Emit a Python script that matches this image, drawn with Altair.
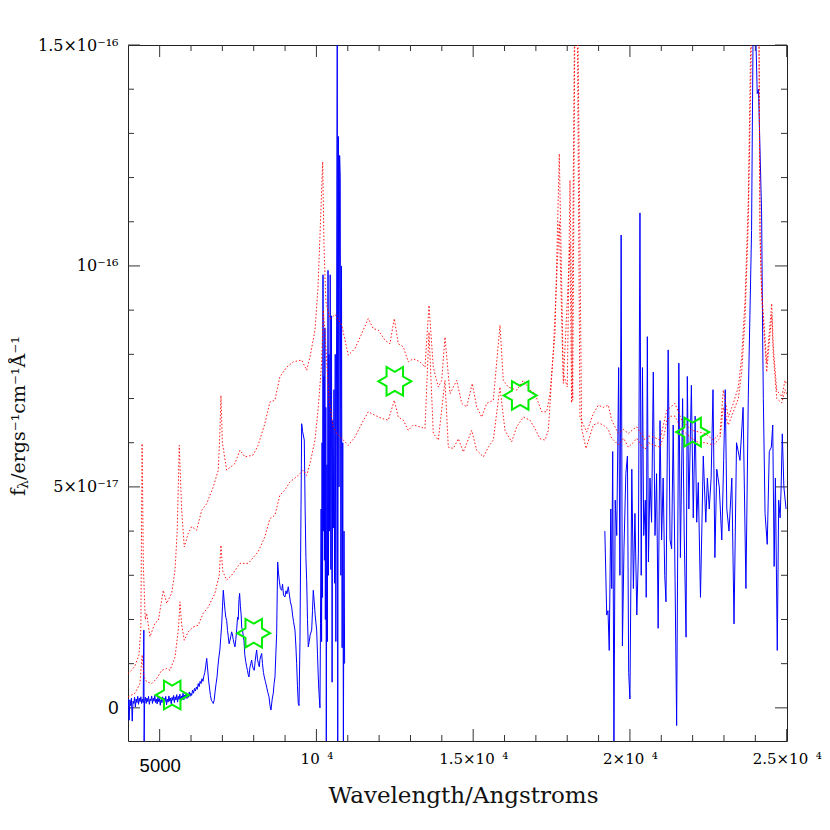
import altair as alt
import pandas as pd

# ---------------- data (flux in units of 1e-17 erg/s/cm2/A) ----------------
blue_optical = [
    (4000, 0.20), (4025, -0.28), (4050, 0.18), (4075, 0.05), (4100, 0.22), (4125, -0.30),
    (4150, 0.15), (4175, 0.10), (4200, 0.24), (4225, 0.02), (4250, 0.20), (4275, 0.12),
    (4300, 0.26), (4325, 0.08), (4350, 0.22), (4375, 0.14), (4400, 0.25), (4425, 0.10),
    (4450, 0.20), (4475, 0.12), (4495, 1.76), (4505, -0.75), (4520, 0.15), (4545, 0.24),
    (4570, 0.10), (4595, 0.22), (4620, 0.14), (4645, 0.26), (4670, 0.08), (4695, 0.20),
    (4720, 0.16), (4745, 0.27), (4770, 0.10), (4795, 0.22), (4820, 0.15), (4845, 0.28),
    (4870, 0.12), (4895, 0.20), (4920, 0.09), (4945, 0.24), (4970, 0.14), (4995, 0.21),
    (5020, 0.06), (5045, 0.19), (5070, 0.12), (5095, 0.25), (5120, 0.10), (5145, 0.22),
    (5170, 0.14), (5195, 0.26), (5220, 0.07), (5245, 0.20), (5270, 0.13), (5295, 0.27),
    (5320, 0.15), (5345, 0.22), (5370, 0.09), (5395, 0.24), (5420, 0.17), (5445, 0.28),
    (5470, 0.12), (5495, 0.25), (5520, 0.18), (5545, 0.30), (5570, 0.13), (5595, 0.26),
    (5620, 0.19), (5645, 0.31), (5670, 0.16), (5695, 0.27), (5720, 0.20), (5745, 0.33),
    (5770, 0.18), (5795, 0.29), (5820, 0.22), (5845, 0.34), (5870, 0.21), (5895, 0.30),
    (5920, 0.24), (5945, 0.36), (5970, 0.26), (5995, 0.33), (6020, 0.28), (6050, 0.40),
    (6080, 0.33), (6110, 0.44), (6140, 0.38), (6170, 0.47), (6200, 0.42), (6230, 0.55),
    (6260, 0.48), (6290, 0.60), (6320, 0.55), (6350, 0.66), (6380, 0.60), (6410, 0.72),
    (6440, 0.80), (6470, 0.95), (6500, 1.12), (6530, 0.88), (6560, 0.63), (6590, 0.45),
    (6620, 0.28), (6650, 0.17), (6680, 0.14), (6710, 0.10), (6740, 0.18), (6770, 0.38),
    (6800, 0.55), (6830, 0.70), (6860, 0.95), (6890, 1.15), (6920, 1.31), (6950, 1.60),
    (6980, 1.90), (7005, 2.30), (7030, 2.66), (7060, 2.40), (7085, 2.20), (7110, 2.05),
    (7137, 1.98), (7165, 1.75), (7190, 1.60), (7215, 1.45), (7243, 1.53), (7270, 1.62),
    (7295, 1.72), (7316, 1.68), (7345, 1.55), (7375, 1.45), (7402, 1.38), (7430, 1.55),
    (7460, 1.80), (7485, 2.05), (7507, 2.00), (7530, 2.45), (7550, 2.59), (7575, 2.30),
    (7600, 2.10), (7616, 1.83), (7645, 1.75), (7670, 1.60), (7689, 1.53), (7715, 1.20),
    (7745, 1.05), (7775, 0.93), (7800, 0.85), (7825, 0.75), (7849, 0.70), (7875, 0.90),
    (7905, 1.00), (7935, 1.08), (7960, 0.95), (7990, 0.88), (8018, 0.85), (8045, 1.05),
    (8070, 1.20), (8094, 1.31), (8120, 1.10), (8150, 1.00), (8177, 0.93), (8200, 1.10),
    (8230, 1.18), (8254, 1.23), (8280, 1.00), (8310, 0.80), (8337, 0.70), (8370, 0.60),
    (8413, 0.47), (8450, 0.35), (8487, 0.25), (8520, 0.05), (8550, -0.05), (8590, 0.20),
    (8624, 0.33), (8650, 0.55), (8678, 0.70), (8705, 1.20), (8732, 1.68), (8750, 2.60),
    (8764, 3.30), (8790, 3.05), (8820, 2.85), (8850, 2.70), (8892, 2.66), (8920, 2.80),
    (8950, 2.55), (8997, 2.51), (9030, 2.65), (9060, 2.58), (9102, 2.74), (9140, 2.55),
    (9170, 2.40), (9211, 2.28), (9240, 2.10), (9270, 1.95), (9316, 1.76), (9345, 1.40),
    (9370, 1.00), (9395, 0.50), (9421, 0.10), (9445, 0.05), (9475, 1.50), (9500, 3.80),
    (9520, 5.50), (9530, 6.43), (9560, 6.25), (9613, 6.06), (9640, 4.50), (9665, 3.40),
    (9689, 2.89), (9715, 2.00), (9740, 1.38), (9770, 1.50), (9800, 1.65), (9849, 1.76),
    (9875, 2.20), (9900, 2.66), (9930, 2.40), (9960, 2.10), (10008, 1.76), (10035, 1.20),
    (10059, 0.70), (10085, 0.30), (10113, 0.00), (10130, 1.90), (10150, 4.50), (10165, 1.50),
    (10180, 6.00), (10195, 2.50), (10210, 9.80), (10225, 4.00), (10240, 7.50), (10255, 3.34),
    (10270, 8.60), (10285, 2.00), (10300, 6.80), (10315, -1.00), (10335, 5.50), (10350, 1.50),
    (10370, 9.90), (10385, 3.00), (10400, 8.00), (10420, 4.00), (10440, 9.80), (10460, 3.13),
    (10480, 8.87), (10500, 0.58), (10520, 6.50), (10540, 4.07), (10560, 7.20), (10580, 2.82),
    (10600, 8.00), (10620, 1.50), (10645, 9.00), (10665, 16.00), (10680, -1.00), (10700, 12.93),
    (10720, 5.00), (10740, 12.50), (10760, 12.00), (10780, 3.00), (10800, 10.00), (10820, 1.36),
    (10840, 6.00), (10860, -1.00), (10880, 4.00), (10900, 1.00),
]

blue_kband = [
    (19200, 4.0), (19260, 2.1), (19300, 2.2), (19340, 1.3), (19390, 4.5), (19420, 2.7),
    (19450, 5.8), (19490, -0.9), (19530, 4.7), (19580, 3.9), (19640, 7.7), (19680, 3.0),
    (19720, 10.7), (19760, 1.4), (19810, 3.6), (19870, 5.3), (19920, 5.7), (19960, 0.8),
    (20000, 0.2), (20060, 5.4), (20110, 2.7), (20160, 4.4), (20220, 2.1), (20270, 3.5),
    (20320, 11.2), (20360, 3.0), (20400, 7.7), (20440, 3.9), (20490, 4.7), (20520, 2.5),
    (20555, 8.4), (20590, 3.3), (20640, 5.2), (20690, 4.2), (20745, 7.6), (20800, 3.9),
    (20850, 5.3), (20900, 1.8), (20960, 6.5), (21010, 3.8), (21060, 5.2), (21110, 3.0),
    (21150, 2.4), (21220, 8.1), (21280, 3.8), (21330, 3.6), (21380, 6.4), (21440, 2.9),
    (21490, -0.4), (21560, 7.8), (21610, 3.4), (21680, 7.0), (21730, 4.0), (21790, 1.6),
    (21830, 7.5), (21880, 4.5), (21960, 7.3), (22020, 4.3), (22080, 6.6), (22130, 4.2),
    (22180, 5.1), (22250, 2.5), (22340, 5.7), (22420, 4.2), (22470, 5.2), (22530, 4.5),
    (22590, 5.2), (22650, 7.2), (22710, 3.4), (22770, 5.4), (22850, 5.0), (22930, 3.8),
    (22990, 5.6), (23040, 7.2), (23090, 4.5), (23160, 4.0), (23250, 5.2), (23320, 1.9),
    (23400, 6.0), (23510, 5.6), (23610, 6.8), (23700, 2.7), (23775, 7.0), (23880, 10.8),
    (23935, 16.0), (23990, 16.0), (24060, 13.9), (24100, 14.0), (24200, 11.2), (24235, 8.3),
    (24255, 7.0), (24310, 4.4), (24380, 3.7), (24445, 5.8), (24510, 5.9), (24555, 6.4),
    (24600, 3.2), (24640, 5.2), (24700, 1.3), (24745, 4.7), (24790, 4.3), (24820, 4.9),
    (24860, 6.2), (24910, 5.0), (24980, 4.5),
]

model_upper = [
    (3990, 0.78), (4100, 0.85), (4212, 0.95), (4340, 1.20), (4400, 1.80), (4440, 5.98),
    (4480, 3.20), (4540, 2.00), (4585, 2.14), (4690, 1.61), (4850, 1.92), (4960, 1.98),
    (5115, 2.66), (5225, 2.36), (5385, 2.60), (5490, 3.12), (5560, 4.00), (5625, 5.94),
    (5700, 4.50), (5785, 3.64), (5912, 3.95), (6020, 4.10), (6180, 4.02), (6340, 4.47),
    (6500, 4.62), (6710, 5.00), (6870, 5.38), (6920, 6.20), (6955, 7.07), (7000, 6.00),
    (7137, 5.38), (7400, 5.53), (7561, 5.83), (7720, 5.68), (7980, 5.72), (8140, 5.94),
    (8355, 6.43), (8515, 6.92), (8675, 6.96), (8835, 7.49), (9050, 7.71), (9260, 7.83),
    (9530, 7.87), (9690, 7.64), (9795, 7.94), (9955, 8.55), (10050, 9.50), (10130, 11.00),
    (10200, 12.36), (10240, 10.50), (10300, 9.20), (10432, 8.80), (10600, 8.90), (10806, 8.66),
    (11016, 7.98), (11230, 8.13), (11495, 8.55), (11654, 8.81), (11814, 8.58), (11973, 8.55),
    (12187, 8.32), (12346, 8.24), (12484, 8.81), (12611, 8.24), (12771, 8.17), (12930, 7.83),
    (13090, 7.90), (13303, 7.83), (13463, 7.71), (13591, 9.11), (13728, 7.71), (13887, 7.26),
    (13996, 7.41), (14101, 8.39), (14260, 7.11), (14474, 7.41), (14634, 6.89), (14793, 6.81),
    (14972, 7.34), (15112, 6.81), (15272, 6.58), (15431, 6.89), (15642, 6.96), (15855, 8.66),
    (15961, 7.41), (16120, 7.26), (16388, 7.19), (16599, 7.41), (16812, 7.19), (16972, 7.11),
    (17186, 6.70), (17345, 6.70), (17450, 7.11), (17610, 8.47), (17747, 12.54), (17875, 7.57),
    (18002, 7.26), (18088, 11.94), (18175, 6.96), (18280, 20.0), (18407, 6.58), (18621, 6.24),
    (18832, 6.66), (18991, 6.85), (19150, 6.80), (19310, 6.85), (19418, 6.51), (19629, 6.21),
    (19800, 6.30), (19948, 6.21), (20100, 6.30), (20216, 6.36), (20350, 6.20), (20481, 6.06),
    (20600, 6.15), (20745, 6.13), (20959, 6.06), (21173, 6.73), (21437, 6.89), (21651, 6.51),
    (21970, 6.28), (22394, 6.21), (22659, 6.06), (22873, 6.21), (22978, 7.19), (23138, 6.58),
    (23297, 6.89), (23457, 7.26), (23565, 7.94), (23671, 9.22), (23776, 11.49), (23862, 15.5),
    (23950, 20.0), (24118, 15.0), (24150, 10.80), (24203, 9.45), (24363, 7.80), (24522, 9.15),
    (24573, 8.17), (24682, 7.19), (24842, 7.04), (24947, 7.41), (25010, 7.30),
]

model_lower = [
    (3990, 0.25), (4212, 0.33), (4370, 0.55), (4440, 1.20), (4500, 0.70), (4585, 0.59),
    (4745, 0.55), (4900, 0.66), (5065, 0.85), (5225, 0.89), (5330, 0.85), (5490, 1.15),
    (5600, 1.80), (5648, 2.40), (5700, 1.90), (5785, 1.53), (5910, 1.72), (6070, 1.83),
    (6230, 1.87), (6390, 2.14), (6550, 2.28), (6760, 2.59), (6900, 3.00), (6955, 3.68),
    (7010, 3.10), (7135, 2.89), (7295, 3.00), (7560, 3.27), (7825, 3.27), (8140, 3.53),
    (8355, 3.87), (8515, 4.28), (8675, 4.36), (8835, 4.81), (8995, 4.93), (9150, 5.11),
    (9420, 5.26), (9580, 5.38), (9690, 5.26), (9795, 5.53), (9955, 6.06), (10060, 6.81),
    (10165, 7.79), (10220, 9.00), (10273, 8.50), (10400, 7.00), (10530, 6.36), (10646, 6.21),
    (10857, 6.06), (11016, 5.94), (11230, 6.13), (11444, 6.43), (11654, 6.70), (11868, 6.62),
    (12082, 6.55), (12292, 6.51), (12484, 6.96), (12611, 6.58), (12771, 6.51), (12930, 6.28),
    (13090, 6.40), (13303, 6.36), (13463, 6.32), (13591, 8.50), (13728, 6.21), (13887, 6.06),
    (14101, 7.41), (14207, 5.90), (14367, 5.87), (14527, 6.09), (14687, 5.79), (14953, 6.28),
    (15112, 5.83), (15325, 5.68), (15485, 5.90), (15642, 6.06), (15855, 7.26), (16014, 6.28),
    (16227, 6.02), (16388, 6.36), (16599, 6.58), (16812, 6.51), (16972, 6.32), (17132, 6.09),
    (17292, 6.06), (17398, 6.28), (17557, 8.09), (17747, 11.00), (17875, 7.34), (18088, 10.50),
    (18140, 6.90), (18280, 20.0), (18460, 6.32), (18600, 5.87), (18832, 6.40), (18991, 6.45),
    (19150, 6.40), (19310, 6.30), (19418, 6.10), (19629, 5.95), (19800, 6.10), (19948, 5.90),
    (20100, 6.00), (20216, 6.10), (20350, 5.95), (20481, 5.85), (20600, 6.00), (20745, 5.95),
    (20959, 5.90), (21100, 6.20), (21173, 6.50), (21300, 6.60), (21437, 6.60), (21651, 6.30),
    (21800, 6.20), (21970, 6.10), (22200, 6.00), (22394, 6.00), (22659, 5.95), (22873, 6.10),
    (22978, 6.80), (23138, 6.40), (23297, 6.70), (23457, 7.00), (23565, 7.60), (23671, 8.80),
    (23776, 11.00), (23862, 14.50), (23950, 20.0), (24118, 15.0), (24150, 10.60), (24203, 9.30),
    (24363, 7.60), (24522, 8.90), (24573, 8.00), (24682, 7.00), (24842, 6.90), (24947, 7.20),
    (25010, 7.10),
]

phot_wave = [5400, 8000, 12500, 16500, 22000]
phot_flux = [0.29, 1.69, 7.39, 7.07, 6.24]

x_major_ticks = [5000, 10000, 15000, 20000, 25000]
x_minor_ticks = [6000, 7000, 8000, 9000, 11000, 12000, 13000, 14000, 16000, 17000,
                 18000, 19000, 21000, 22000, 23000, 24000]
y_major_ticks = [0, 5, 10, 15]
y_minor_ticks = [1, 2, 3, 4, 6, 7, 8, 9, 11, 12, 13, 14]

x_tick_labels = ["5000", "10\u2002⁴", "1.5×10\u2002⁴", "2×10\u2002⁴", "2.5×10\u2002⁴"]
y_tick_labels = ["0", "5×10⁻¹⁷", "10⁻¹⁶", "1.5×10⁻¹⁶"]

x_title = "Wavelength/Angstroms"
y_title_parts = ["f", "λ", "/ergs⁻¹cm⁻¹Å⁻¹"]

# ---------------- build tables ----------------
blue_df = pd.DataFrame(
    [{"w": w, "f": f, "seg": "optical"} for w, f in blue_optical]
    + [{"w": w, "f": f, "seg": "k"} for w, f in blue_kband]
)
model_df = pd.DataFrame(
    [{"w": w, "f": f, "model": "upper"} for w, f in model_upper]
    + [{"w": w, "f": f, "model": "lower"} for w, f in model_lower]
)
phot_df = pd.DataFrame({"w": phot_wave, "f": phot_flux})


def label_expr(values, texts):
    s = "''"
    for v, t in reversed(list(zip(values, texts))):
        s = f"datum.value == {v} ? '{t}' : {s}"
    return s


W, H = 659, 696
SERIF = "DejaVu Serif"
SANS = "Liberation Sans"

xaxis = alt.Axis(
    values=x_major_ticks, labelExpr=label_expr(x_major_ticks, x_tick_labels),
    ticks=False, tickSize=0, domain=False, grid=False,
    labelFont={"condition": {"test": "datum.value == 5000", "value": SANS}, "value": SERIF},
    labelFontSize={"condition": {"test": "datum.value == 5000", "value": 18.5}, "value": 15},
    labelPadding={"condition": {"test": "datum.value == 5000", "value": 15}, "value": 10},
    labelColor="black", labelFlush=False, labelOverlap=False, labelBaseline="top",
    title=x_title, titleFont=SERIF, titleFontSize=23, titleFontWeight="normal",
    titleColor="#111", titleX=335, titleY=61, titleBaseline="alphabetic", titleAlign="center",
)
yaxis = alt.Axis(
    values=y_major_ticks, labelExpr=label_expr(y_major_ticks, y_tick_labels),
    ticks=False, tickSize=0, domain=False, grid=False,
    labelFont={"condition": {"test": "datum.value == 0", "value": SANS}, "value": SERIF},
    labelFontSize={"condition": {"test": "datum.value == 0", "value": 18.5}, "value": 16},
    labelPadding=10, labelColor="black", labelFlush=False, labelOverlap=False,
    labelAlign="right", labelBaseline="middle", title="",
)

xscale = alt.Scale(domain=[3990, 25010], nice=False, zero=False)
yscale = alt.Scale(domain=[-0.75, 15], nice=False, zero=False)


def X():
    return alt.X("w:Q", scale=xscale, axis=xaxis)


def Y():
    return alt.Y("f:Q", scale=yscale, axis=yaxis)


blue = alt.Chart(blue_df).mark_line(color="#0000ff", strokeWidth=1, clip=True).encode(
    x=X(), y=Y(), detail="seg:N"
)
red = alt.Chart(model_df).mark_line(
    color="#ff0000", strokeWidth=1, strokeDash=[1.5, 2], clip=True, opacity=0.9
).encode(x=X(), y=Y(), detail="model:N")

HEX = ("M1,0L0.5,0.2887L0.5,0.866L0,0.5774L-0.5,0.866L-0.5,0.2887L-1,0"
       "L-0.5,-0.2887L-0.5,-0.866L0,-0.5774L0.5,-0.866L0.5,-0.2887Z")
stars = alt.Chart(phot_df).mark_point(
    shape=HEX, size=1089, filled=False, stroke="#00ee00", strokeWidth=2, opacity=1
).encode(x=X(), y=Y())

tick_color = "#333"
xmaj = pd.DataFrame({"w": x_major_ticks})
xmin = pd.DataFrame({"w": x_minor_ticks})
ymaj = pd.DataFrame({"f": y_major_ticks})
ymin = pd.DataFrame({"f": y_minor_ticks})

tick_layers = []
for df, L in ((xmaj, 12), (xmin, 6)):
    tick_layers.append(alt.Chart(df).mark_rule(color=tick_color, strokeWidth=1).encode(
        x=X(), y=alt.value(H), y2=alt.value(H - L)))
    tick_layers.append(alt.Chart(df).mark_rule(color=tick_color, strokeWidth=1).encode(
        x=X(), y=alt.value(0), y2=alt.value(L)))
for df, L in ((ymaj, 12), (ymin, 6)):
    tick_layers.append(alt.Chart(df).mark_rule(color=tick_color, strokeWidth=1).encode(
        y=Y(), x=alt.value(0), x2=alt.value(L)))
    tick_layers.append(alt.Chart(df).mark_rule(color=tick_color, strokeWidth=1).encode(
        y=Y(), x=alt.value(W), x2=alt.value(W - L)))

one = pd.DataFrame({"k": [0]})
yt_f = alt.Chart(one).mark_text(
    text=y_title_parts[0], angle=270, align="left", baseline="middle",
    font=SERIF, fontSize=20, color="#111"
).encode(x=alt.value(-109), y=alt.value(451))
yt_l = alt.Chart(one).mark_text(
    text=y_title_parts[1], angle=270, align="left", baseline="middle",
    font=SERIF, fontSize=14, color="#111"
).encode(x=alt.value(-104), y=alt.value(444))
yt_r = alt.Chart(one).mark_text(
    text=y_title_parts[2], angle=270, align="left", baseline="middle",
    font=SERIF, fontSize=19, color="#111"
).encode(x=alt.value(-109), y=alt.value(435))

chart = alt.layer(
    *tick_layers, blue, red, stars, yt_f, yt_l, yt_r
).properties(
    width=W, height=H,
    autosize=alt.AutoSizeParams(type="none"),
    padding={"left": 120, "top": 37, "right": 35, "bottom": 70},
    background="white",
).configure_view(stroke="#222", strokeWidth=1)

chart.save("out.html", embed_options={"renderer": "svg", "actions": False})
